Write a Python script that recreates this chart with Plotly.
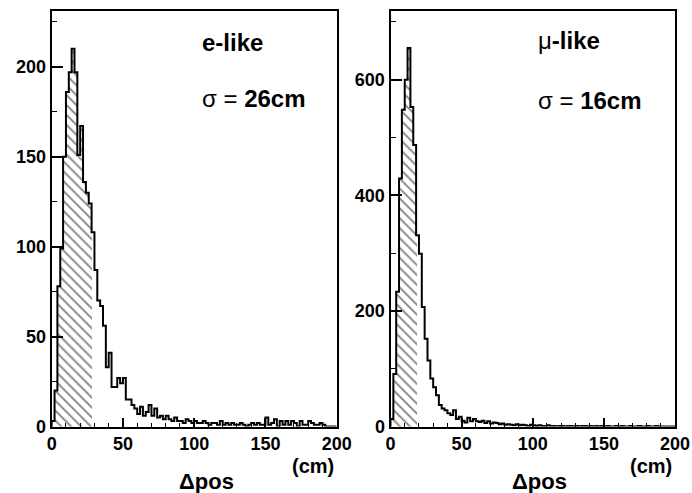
import numpy as np
import plotly.graph_objects as go

# ---- data (2 cm bins from 0 to 200 cm) ----
bin_width = 2
e_like_counts = [3, 20, 78, 99, 150, 186, 197, 210, 197, 151,
                 167, 136, 130, 124, 108, 87, 70, 67, 56, 33,
                 41, 22, 22, 27, 24, 27, 15, 15, 12, 10,
                 7, 11, 6, 8, 12, 6, 10, 5, 6, 4,
                 6, 4, 3, 5, 3, 3, 2, 4, 3, 2,
                 3, 2, 2, 3, 2, 1, 2, 2, 1, 3,
                 1, 2, 1, 2, 1, 1, 2, 1, 0, 1,
                 2, 1, 2, 1, 1, 5, 1, 2, 4, 0,
                 3, 1, 3, 1, 3, 2, 0, 3, 1, 1,
                 3, 2, 1, 1, 2, 1, 0, 0, 0, 0]
mu_like_counts = [13, 91, 233, 429, 548, 600, 655, 553, 487, 331,
                  299, 207, 152, 114, 83, 68, 54, 37, 31, 28,
                  23, 20, 28, 13, 17, 10, 7, 15, 9, 13,
                  9, 8, 10, 6, 9, 5, 7, 6, 4, 5,
                  3, 4, 3, 2, 4, 2, 3, 2, 1, 3,
                  2, 1, 2, 1, 1, 2, 1, 1, 0, 1,
                  1, 0, 1, 1, 0, 1, 0, 1, 1, 0,
                  1, 0, 1, 0, 1, 0, 1, 0, 0, 1,
                  0, 1, 0, 0, 1, 0, 0, 1, 0, 0,
                  1, 0, 0, 1, 0, 0, 0, 0, 0, 0]
e_hatch_bins = 14   # hatched region 0-28 cm
mu_hatch_bins = 9   # hatched region 0-18 cm
x_ticks = [0, 50, 100, 150, 200]
y_ticks_left = [0, 50, 100, 150, 200]
y_ticks_right = [0, 200, 400, 600]
labels_left = ["<b>e-like</b>", "σ = <b>26cm</b>"]
labels_right = ["μ<b>-like</b>", "σ = <b>16cm</b>"]

FONT = "Liberation Sans, Arial, sans-serif"

def step_xy(counts):
    n = len(counts)
    edges = np.arange(n + 1) * bin_width
    xs = np.concatenate([[0], edges[:-1], [edges[-1], edges[-1]]])
    ys = np.concatenate([[0], counts, [counts[-1], 0]])
    return xs, ys

fig = go.Figure()

for counts, nh, xa, ya in [(e_like_counts, e_hatch_bins, "x", "y"),
                           (mu_like_counts, mu_hatch_bins, "x2", "y2")]:
    centers = np.arange(len(counts)) * bin_width + bin_width / 2
    fig.add_trace(go.Bar(
        x=centers[:nh], y=counts[:nh], width=bin_width,
        marker=dict(color="white", line=dict(width=0),
                    pattern=dict(shape="\\", fgcolor="black", bgcolor="white",
                                 size=7, solidity=0.25)),
        xaxis=xa, yaxis=ya, showlegend=False, hoverinfo="skip"))
    xs, ys = step_xy(counts)
    fig.add_trace(go.Scatter(
        x=xs, y=ys, mode="lines", line=dict(shape="hv", color="black", width=2),
        xaxis=xa, yaxis=ya, showlegend=False))

y0, y1 = (493 - 426.5) / 493, (493 - 11) / 493
xl = [51.7 / 692, 336.7 / 692]
xr = [390.5 / 692, 675 / 692]

tickfont = dict(family=FONT, size=18, color="black")

def bold(vals):
    return ["<b>%d</b>" % v for v in vals]

def xaxis_cfg(domain, anchor):
    return dict(domain=domain, anchor=anchor, range=[0, 200],
                tickvals=x_ticks, ticktext=bold(x_ticks),
                ticks="inside", ticklen=9, tickwidth=1.5, tickcolor="black",
                minor=dict(dtick=10, ticks="inside", ticklen=4, tickcolor="black", tickwidth=1),
                showgrid=False, zeroline=False, showline=True, linecolor="black",
                linewidth=2, mirror=True, tickfont=tickfont, fixedrange=True,
                automargin=False)

def yaxis_cfg(anchor, rng, tv, mdtick):
    return dict(domain=[y0, y1], anchor=anchor, range=rng,
                tickvals=tv, ticktext=bold(tv),
                ticks="inside", ticklen=11, tickwidth=1.5, tickcolor="black",
                minor=dict(dtick=mdtick, ticks="inside", ticklen=5, tickcolor="black", tickwidth=1),
                showgrid=False, zeroline=False, showline=True, linecolor="black",
                linewidth=2, mirror=True, tickfont=tickfont, fixedrange=True,
                automargin=False)

annotations = []
for (lab1, lab2), x_left, (yl1, yl2) in [(labels_left, 200, (42, 98)),
                                          (labels_right, 536, (41, 100))]:
    annotations.append(dict(text=lab1, x=x_left / 692, y=1 - yl1 / 493,
                            xref="paper", yref="paper", xanchor="left", yanchor="middle",
                            showarrow=False, font=dict(family=FONT, size=24, color="black")))
    annotations.append(dict(text=lab2, x=x_left / 692, y=1 - yl2 / 493,
                            xref="paper", yref="paper", xanchor="left", yanchor="middle",
                            showarrow=False, font=dict(family=FONT, size=24, color="black")))

for cx_dpos, cx_cm in [(206, 336), (539, 674)]:
    annotations.append(dict(text="<b>(cm)</b>", x=cx_cm / 692, y=1 - 466 / 493,
                            xref="paper", yref="paper", xanchor="right", yanchor="middle",
                            showarrow=False, font=dict(family=FONT, size=20, color="black")))
    annotations.append(dict(text="<b>Δpos</b>", x=cx_dpos / 692, y=1 - 481 / 493,
                            xref="paper", yref="paper", xanchor="center", yanchor="middle",
                            showarrow=False, font=dict(family=FONT, size=22, color="black")))

fig.update_layout(
    width=692, height=493,
    margin=dict(l=0, r=0, t=0, b=0),
    paper_bgcolor="white", plot_bgcolor="white",
    bargap=0,
    xaxis=xaxis_cfg(xl, "y"),
    yaxis=yaxis_cfg("x", [0, 231], y_ticks_left, 25),
    xaxis2=xaxis_cfg(xr, "y2"),
    yaxis2=yaxis_cfg("x2", [0, 719], y_ticks_right, 100),
    annotations=annotations,
    showlegend=False,
)

fig.write_html("out.html", config={"displayModeBar": False},
               post_script="document.body.style.margin='0px';")
